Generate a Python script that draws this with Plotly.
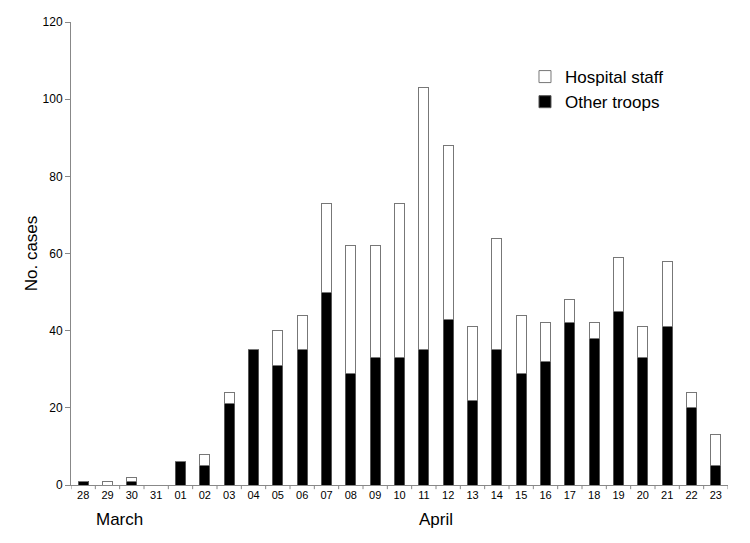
import plotly.graph_objects as go

days = ["28", "29", "30", "31", "01", "02", "03", "04", "05", "06", "07", "08", "09",
        "10", "11", "12", "13", "14", "15", "16", "17", "18", "19", "20", "21", "22", "23"]
other_troops = [1, 0, 1, 0, 6, 5, 21, 35, 31, 35, 50, 29, 33,
                33, 35, 43, 22, 35, 29, 32, 42, 38, 45, 33, 41, 20, 5]
hospital_staff = [0, 1, 1, 0, 0, 3, 3, 0, 9, 9, 23, 33, 29,
                  40, 68, 45, 19, 29, 15, 10, 6, 4, 14, 8, 17, 4, 8]

# use position index so March/April annotations can be placed on the axis
x = list(range(len(days)))

fig = go.Figure()
fig.add_trace(go.Bar(
    x=x, y=other_troops, name="Other troops",
    marker=dict(color="black", line=dict(color="#555555", width=1)),
    width=0.42,
))
fig.add_trace(go.Bar(
    x=x, y=hospital_staff, name="Hospital staff",
    marker=dict(color="white", line=dict(color="#777777", width=1)),
    width=0.42,
))

# page body adds 8px, so the figure is a bit smaller than the window
fig.update_layout(
    barmode="stack",
    width=742, height=535,
    margin=dict(l=63, r=22, t=7, b=58),
    plot_bgcolor="white", paper_bgcolor="white",
    font=dict(family="Liberation Sans, Arial", color="black"),
    showlegend=True,
    legend=dict(
        x=0.691, y=0.92, xanchor="left", yanchor="top",
        traceorder="reversed",
        font=dict(size=17),
        bgcolor="rgba(0,0,0,0)",
        tracegroupgap=0,
    ),
)
fig.update_xaxes(
    tickmode="array", tickvals=x, ticktext=days,
    range=[-0.5, len(days) - 0.5],
    showline=True, linecolor="#888888", linewidth=1,
    ticks="", showgrid=False, zeroline=False,
    tickfont=dict(size=11, family="Liberation Sans Narrow, Arial Narrow, Liberation Sans"),
)
# tick marks between categories
for i in range(len(days) + 1):
    fig.add_shape(type="line", xref="x", yref="paper",
                  x0=i - 0.5, x1=i - 0.5, y0=0, y1=-0.009,
                  line=dict(color="#888888", width=1))
fig.update_yaxes(
    range=[0, 120], dtick=20,
    showline=True, linecolor="#888888", linewidth=1,
    ticks="outside", ticklen=5, tickcolor="#888888",
    showgrid=False, zeroline=False,
    tickfont=dict(size=12),
    title=dict(text="No. cases", font=dict(size=17), standoff=0),
)
fig.add_annotation(x=1.5, y=-0.075, xref="x", yref="paper", text="March",
                   showarrow=False, font=dict(size=17), yanchor="middle")
fig.add_annotation(x=14.5, y=-0.075, xref="x", yref="paper", text="April",
                   showarrow=False, font=dict(size=17), yanchor="middle")

fig.write_html("out.html")
